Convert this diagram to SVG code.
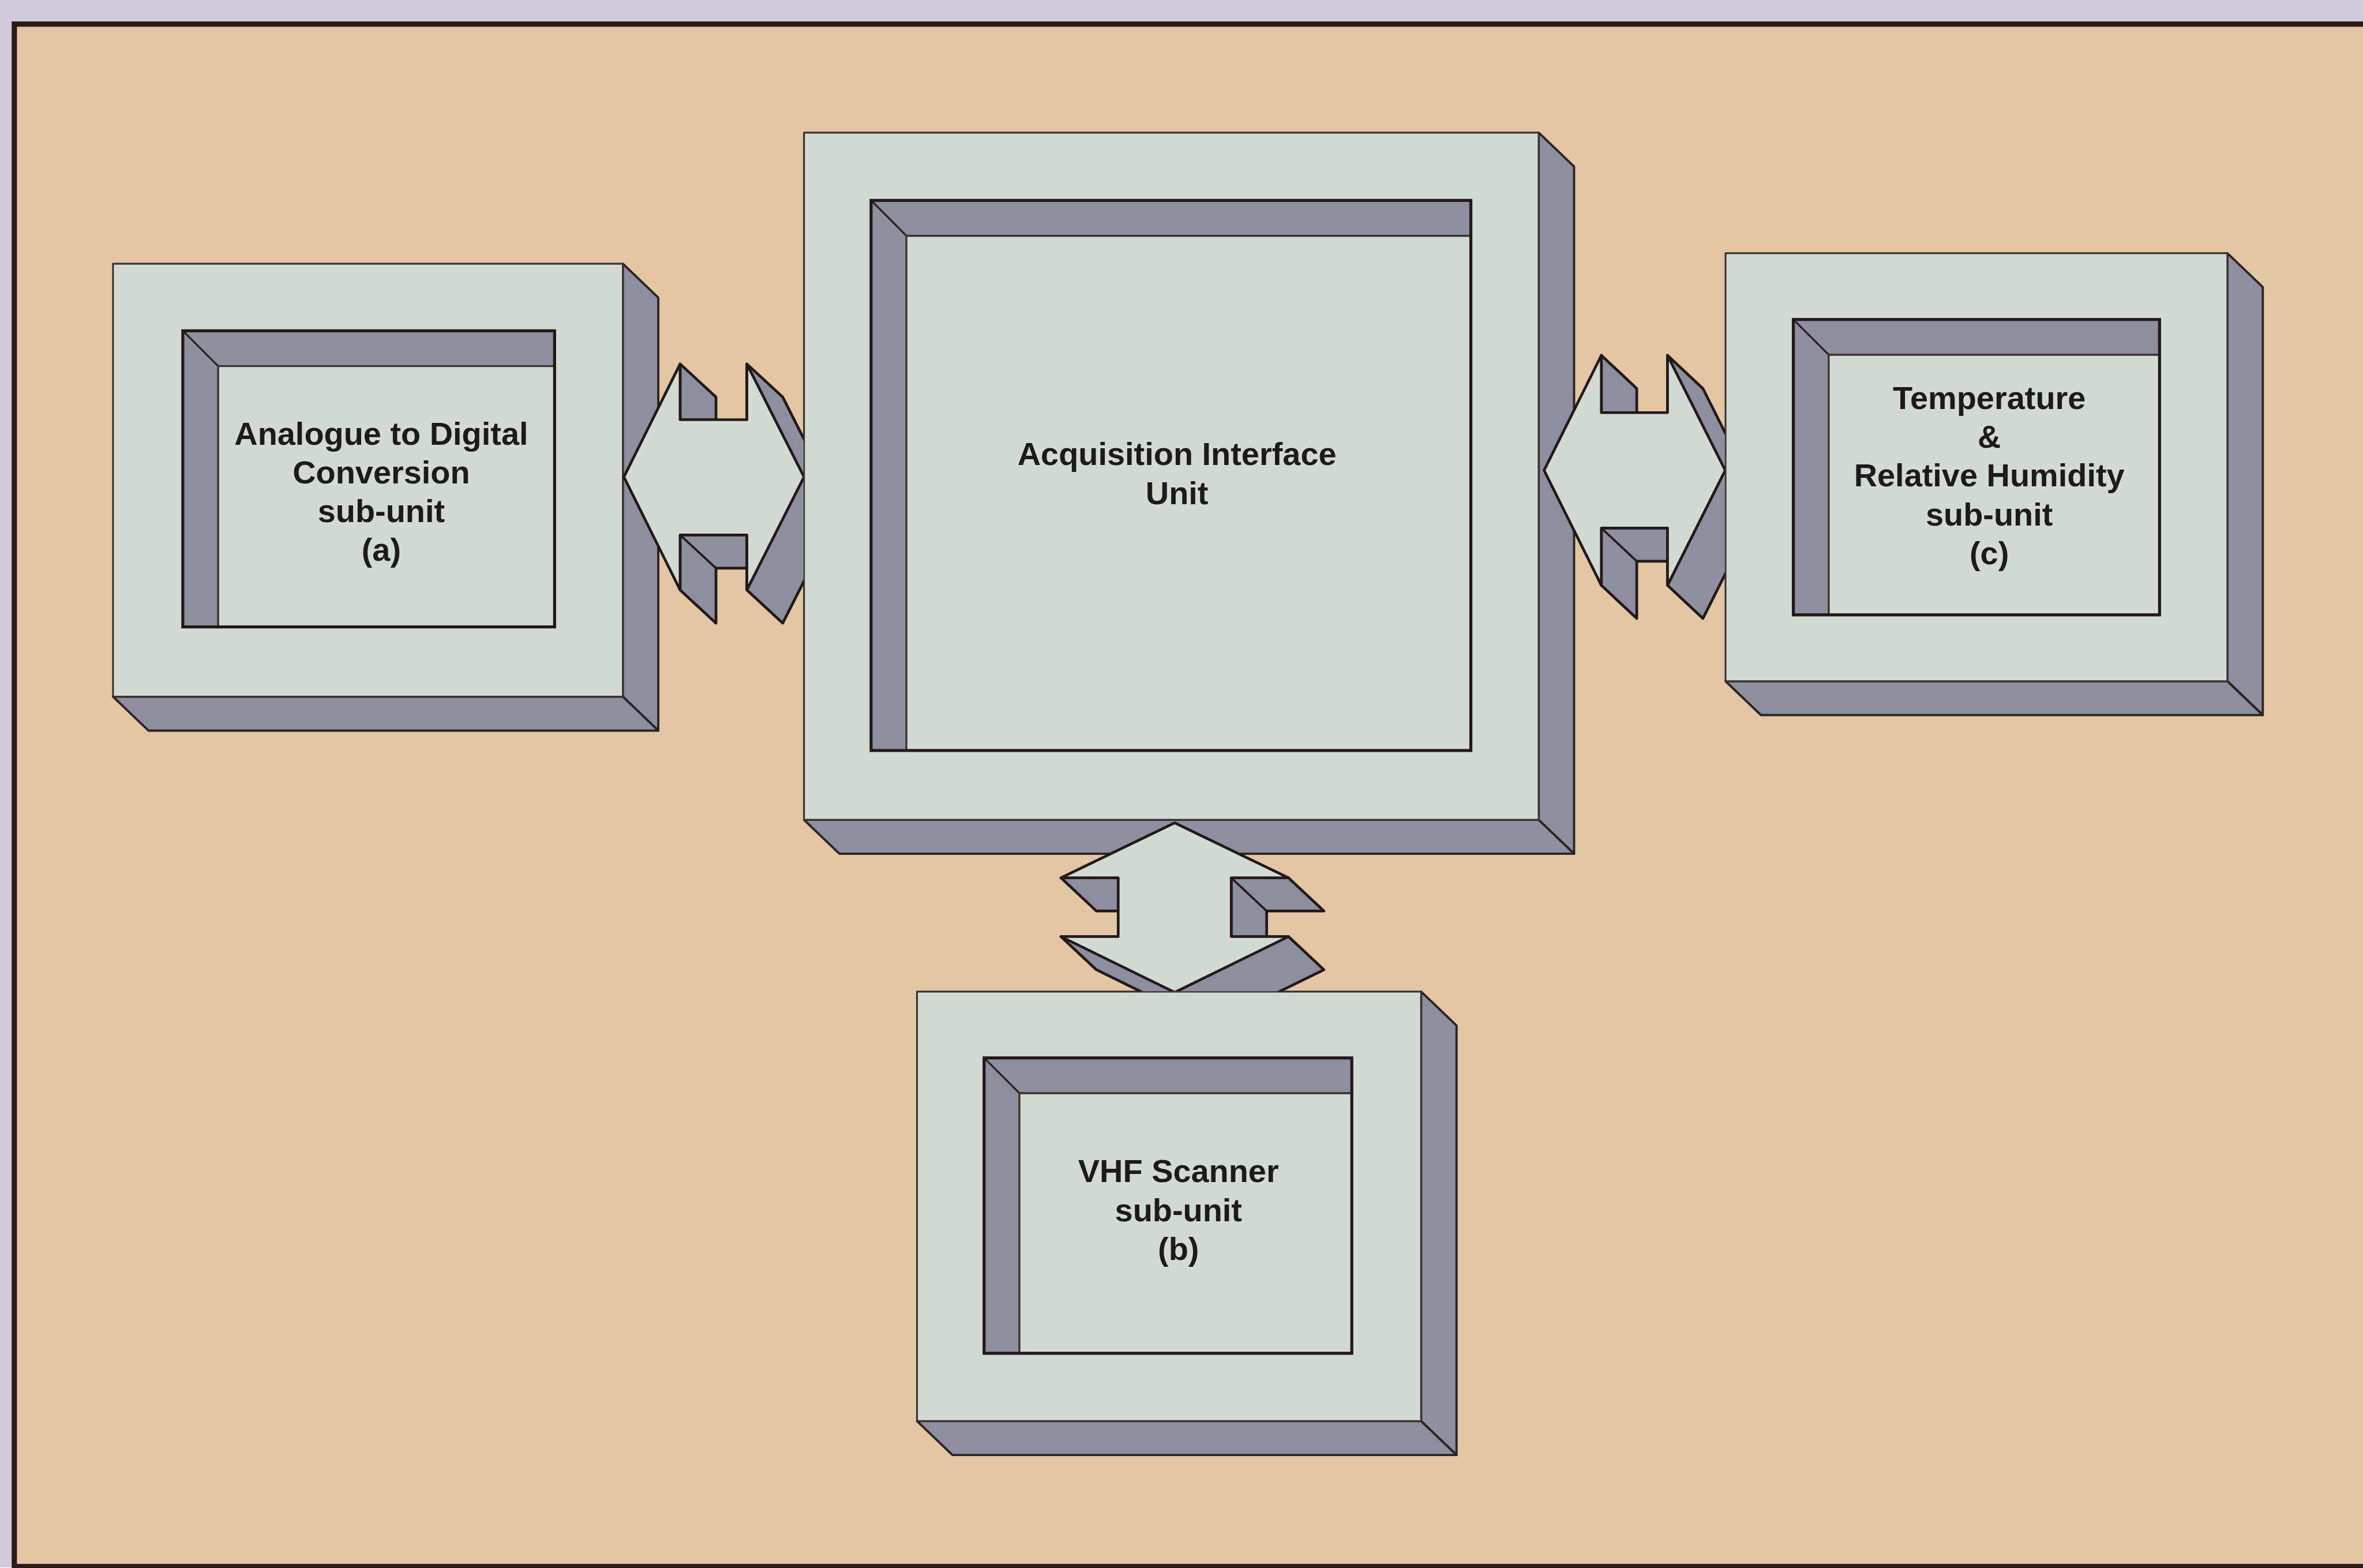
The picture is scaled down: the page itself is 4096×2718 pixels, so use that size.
<svg xmlns="http://www.w3.org/2000/svg" width="4096" height="2718" viewBox="0 0 4096 2718">
  <defs>
    <style>
      .margin { fill: #d0cadb; }
      .panel { fill: #e4c5a4; stroke: #2a1a18; stroke-width: 3.5; }
      .face { fill: #d3dad3; stroke: #3a3333; stroke-width: 1.2; stroke-linejoin: round; }
      .side { fill: #8e8e9e; stroke: #2b2424; stroke-width: 1.5; stroke-linejoin: round; }
      .wall { fill: #8e8e9e; stroke: #2b2424; stroke-width: 1.2; stroke-linejoin: round; }
      .well { fill: none; stroke: #221a1a; stroke-width: 2; }
      .arrow-face { fill: #d3dad3; stroke: #221a1a; stroke-width: 1.8; stroke-linejoin: round; }
      .arrow-side { fill: #8e8e9e; stroke: #221a1a; stroke-width: 1.8; stroke-linejoin: round; }
      .edge { fill: none; stroke: #221a1a; stroke-width: 1.4; }
      .label { font-family: "Liberation Sans", Arial, sans-serif; font-weight: bold; font-size: 21.4px; fill: #1c1a1a; text-anchor: middle; }
    </style>
    <!-- each double arrow stops where the face of the box it points into begins -->
    <clipPath id="clip-left"><rect x="0" y="0" width="533.2" height="1040"/></clipPath>
    <clipPath id="clip-right"><rect x="0" y="0" width="1144.6" height="1040"/></clipPath>
    <clipPath id="clip-down"><rect x="0" y="0" width="1568" height="657.8"/></clipPath>
  </defs>

  <g transform="scale(2.612245)">
    <!-- page and framed panel -->
    <rect class="margin" x="0" y="0" width="1568" height="1040"/>
    <rect class="panel" x="9.5" y="16" width="1580" height="1023.5"/>

    <!-- Analogue to Digital Conversion sub-unit -->
    <g id="node-adc">
      <polygon class="side" points="413.3,175 436.8,197.5 436.8,484.8 413.3,462.3"/>
      <polygon class="side" points="75,462.3 413.3,462.3 436.8,484.8 98.5,484.8"/>
      <rect class="face" x="75" y="175" width="338.3" height="287.3"/>
      <polygon class="wall" points="121.3,219.5 368,219.5 368,243 144.8,243"/>
      <polygon class="wall" points="121.3,219.5 144.8,243 144.8,416 121.3,416"/>
      <rect class="face" x="144.8" y="243" width="223.2" height="173"/>
      <rect class="well" x="121.3" y="219.5" width="246.7" height="196.5"/>
      <text class="label" x="253" y="295">Analogue to Digital</text>
      <text class="label" x="253" y="320.7">Conversion</text>
      <text class="label" x="253" y="346.4">sub-unit</text>
      <text class="label" x="253" y="372.1">(a)</text>
    </g>

    <!-- Acquisition Interface Unit -->
    <g id="node-acq">
      <polygon class="side" points="1021,88 1044.5,110.5 1044.5,566.5 1021,544"/>
      <polygon class="side" points="533.5,544 1021,544 1044.5,566.5 557,566.5"/>
      <rect class="face" x="533.5" y="88" width="487.5" height="456"/>
      <polygon class="wall" points="578,133 976,133 976,156.5 601.5,156.5"/>
      <polygon class="wall" points="578,133 601.5,156.5 601.5,498 578,498"/>
      <rect class="face" x="601.5" y="156.5" width="374.5" height="341.5"/>
      <rect class="well" x="578" y="133" width="398" height="365"/>
      <text class="label" x="781" y="308.5">Acquisition Interface</text>
      <text class="label" x="781" y="334.5">Unit</text>
    </g>

    <!-- Temperature & Relative Humidity sub-unit -->
    <g id="node-thr">
      <polygon class="side" points="1478,168 1501.5,190.5 1501.5,474.5 1478,452"/>
      <polygon class="side" points="1145,452 1478,452 1501.5,474.5 1168.5,474.5"/>
      <rect class="face" x="1145" y="168" width="333" height="284"/>
      <polygon class="wall" points="1190,212 1433,212 1433,235.5 1213.5,235.5"/>
      <polygon class="wall" points="1190,212 1213.5,235.5 1213.5,408 1190,408"/>
      <rect class="face" x="1213.5" y="235.5" width="219.5" height="172.5"/>
      <rect class="well" x="1190" y="212" width="243" height="196"/>
      <text class="label" x="1320" y="271.5">Temperature</text>
      <text class="label" x="1320" y="297.2">&amp;</text>
      <text class="label" x="1320" y="322.9">Relative Humidity</text>
      <text class="label" x="1320" y="348.6">sub-unit</text>
      <text class="label" x="1320" y="374.3">(c)</text>
    </g>

    <!-- VHF Scanner sub-unit -->
    <g id="node-vhf">
      <polygon class="side" points="943,658 966.5,680.5 966.5,965.5 943,943"/>
      <polygon class="side" points="608.5,943 943,943 966.5,965.5 632,965.5"/>
      <rect class="face" x="608.5" y="658" width="334.5" height="285"/>
      <polygon class="wall" points="653,702 897,702 897,725.5 676.5,725.5"/>
      <polygon class="wall" points="653,702 676.5,725.5 676.5,898 653,898"/>
      <rect class="face" x="676.5" y="725.5" width="220.5" height="172.5"/>
      <rect class="well" x="653" y="702" width="244" height="196"/>
      <text class="label" x="782" y="784.5">VHF Scanner</text>
      <text class="label" x="782" y="810.3">sub-unit</text>
      <text class="label" x="782" y="836">(b)</text>
    </g>

    <!-- bidirectional block arrows between the units -->
    <g id="connectors">
      <g id="link-adc-acq" clip-path="url(#clip-left)">
        <polygon class="arrow-side" points="495.6,241.5 519.4,263.5 557.3,338.5 519.4,413.5 495.6,391.5"/>
        <polygon class="arrow-side" points="451.3,241.5 475.1,263.5 475.1,278.5 451.3,278.5"/>
        <polygon class="arrow-side" points="451.3,355 495.6,355 495.6,377 475.1,377 475.1,413.5 451.3,391.5"/>
        <line class="edge" x1="451.3" y1="355" x2="475.1" y2="377"/>
        <polygon class="arrow-face" points="414,316.5 451.3,241.5 451.3,278.5 495.6,278.5 495.6,241.5 533.5,316.5 495.6,391.5 495.6,355 451.3,355 451.3,391.5"/>
      </g>
      <g id="link-acq-thr" clip-path="url(#clip-right)">
        <polygon class="arrow-side" points="1106.5,235.8 1130,257.8 1168.3,334.1 1130,410.4 1106.5,388.4"/>
        <polygon class="arrow-side" points="1062.6,235.8 1086.1,257.8 1086.1,273.8 1062.6,273.8"/>
        <polygon class="arrow-side" points="1062.6,350.4 1106.5,350.4 1106.5,372.4 1086.1,372.4 1086.1,410.4 1062.6,388.4"/>
        <line class="edge" x1="1062.6" y1="350.4" x2="1086.1" y2="372.4"/>
        <polygon class="arrow-face" points="1024.6,312.1 1062.6,235.8 1062.6,273.8 1106.5,273.8 1106.5,235.8 1144.8,312.1 1106.5,388.4 1106.5,350.4 1062.6,350.4 1062.6,388.4"/>
      </g>
      <g id="link-acq-vhf" clip-path="url(#clip-down)">
        <polygon class="arrow-side" points="704,621.5 727.5,643.5 803,680.5 878.5,643.5 855,621.5"/>
        <polygon class="arrow-side" points="704,582.5 742,582.5 742,604.5 727.5,604.5"/>
        <polygon class="arrow-side" points="817,582.5 855,582.5 878.5,604.5 840.5,604.5 840.5,621.5 817,621.5"/>
        <line class="edge" x1="817" y1="582.5" x2="840.5" y2="604.5"/>
        <polygon class="arrow-face" points="779.5,546 855,582.5 817,582.5 817,621.5 855,621.5 779.5,658.5 704,621.5 742,621.5 742,582.5 704,582.5"/>
      </g>
    </g>
  </g>
</svg>
